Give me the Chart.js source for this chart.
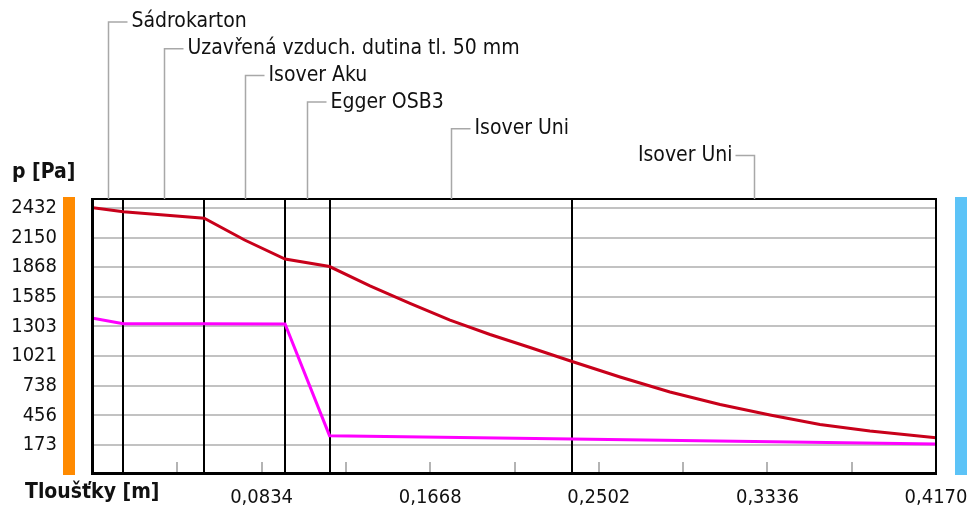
<!DOCTYPE html>
<html>
<head>
<meta charset="utf-8">
<script src="https://cdn.jsdelivr.net/npm/chart.js@4.4.1/dist/chart.umd.min.js"></script>
<style>
  html, body { margin: 0; padding: 0; background: #fff; }
  #wrap { width: 971px; height: 506px; }
</style>
</head>
<body>
<div id="wrap"><canvas id="chart"></canvas></div>
<script>
// Layers of the wall (names + boundaries in metres)
const layerNames = ['Sádrokarton', 'Uzavřená vzduch. dutina tl. 50 mm', 'Isover Aku', 'Egger OSB3', 'Isover Uni', 'Isover Uni'];
const layerBounds = [0, 0.015, 0.055, 0.095, 0.117, 0.237, 0.417];

// red curve (saturated pressure)
const satX = [0, 0.015, 0.055, 0.075, 0.095, 0.117, 0.137, 0.1568, 0.1766, 0.1964, 0.2162, 0.237, 0.2607, 0.2854, 0.3102, 0.3349, 0.3596, 0.3843, 0.417];
const satP = [2435, 2397, 2334, 2127, 1946, 1874, 1689, 1522, 1364, 1226, 1102, 969, 821, 678, 559, 459, 368, 306, 242];

// magenta line (partial pressure)
const parX = [0, 0.015, 0.055, 0.095, 0.117, 0.237, 0.417];
const parP = [1381, 1328, 1328, 1326, 262, 230, 183];

const yTicks = [173, 456, 738, 1021, 1303, 1585, 1868, 2150, 2432];
const xTicks = [0.0834, 0.1668, 0.2502, 0.3336, 0.4170];
const xMinorStep = 0.0417;

const FONT = "'Liberation Sans Narrow', 'DejaVu Sans Condensed', 'Liberation Sans', sans-serif";
Chart.defaults.font.family = FONT;
Chart.defaults.font.size = 20;
Chart.defaults.color = '#111';

const decor = {
  id: 'decor',
  beforeDatasetsDraw(chart) {
    const { ctx, chartArea: a, scales: { x } } = chart;
    ctx.save();
    // small ticks at the bottom edge
    ctx.strokeStyle = '#b4b4b4';
    ctx.lineWidth = 2;
    for (let i = 1; i * xMinorStep < layerBounds[layerBounds.length - 1] - 1e-6; i++) {
      const px = Math.round(x.getPixelForValue(i * xMinorStep));
      ctx.beginPath();
      ctx.moveTo(px, a.bottom);
      ctx.lineTo(px, a.bottom - 11);
      ctx.stroke();
    }
    // layer boundaries
    ctx.strokeStyle = '#000';
    ctx.lineWidth = 2;
    layerBounds.slice(1, -1).forEach(b => {
      const px = Math.round(x.getPixelForValue(b));
      ctx.beginPath();
      ctx.moveTo(px, a.top);
      ctx.lineTo(px, a.bottom);
      ctx.stroke();
    });
    ctx.restore();
  },
  afterDatasetsDraw(chart) {
    const { ctx, chartArea: a } = chart;
    ctx.save();
    ctx.fillStyle = '#000';
    ctx.fillRect(a.left - 2, a.top - 1, 3, a.bottom - a.top + 3);   // left
    ctx.fillRect(a.left - 2, a.bottom - 1, a.right - a.left + 3, 3); // bottom
    ctx.fillRect(a.left - 2, a.top - 1, a.right - a.left + 3, 2);    // top
    ctx.fillRect(a.right - 1, a.top - 1, 2, a.bottom - a.top + 3);   // right
    ctx.restore();
  },
  afterDraw(chart) {
    const { ctx, chartArea: a, scales: { x } } = chart;
    ctx.save();
    // interior / exterior bars
    ctx.fillStyle = '#ff8a00';
    ctx.fillRect(63, a.top - 2, 12, a.bottom - a.top + 4);
    ctx.fillStyle = '#5cc3f7';
    ctx.fillRect(955, a.top - 2, 12, a.bottom - a.top + 4);

    // layer labels with leader lines
    ctx.font = '21px ' + FONT;
    ctx.textBaseline = 'middle';
    ctx.strokeStyle = '#a8a8a8';
    ctx.lineWidth = 1.5;
    layerNames.forEach((name, i) => {
      const px = Math.round(x.getPixelForValue((layerBounds[i] + layerBounds[i + 1]) / 2)) + 0.5;
      const ly = 22 + i * 26.7;
      const left = i === layerNames.length - 1;
      ctx.beginPath();
      ctx.moveTo(px, a.top);
      ctx.lineTo(px, ly);
      ctx.lineTo(left ? px - 19 : px + 19, ly);
      ctx.stroke();
      ctx.fillStyle = '#111';
      ctx.textAlign = left ? 'right' : 'left';
      ctx.fillText(name, left ? px - 22 : px + 23, ly);
    });

    // axis titles
    ctx.font = 'bold 21px ' + FONT;
    ctx.textAlign = 'left';
    ctx.fillStyle = '#111';
    ctx.fillText('p [Pa]', 12, 173);
    ctx.fillText('Tloušťky [m]', 25, 493);
    ctx.restore();
  }
};

new Chart(document.getElementById('chart'), {
  type: 'line',
  data: {
    datasets: [
      {
        label: 'p sat',
        data: satX.map((v, i) => ({ x: v, y: satP[i] })),
        borderColor: '#c8001a',
        borderWidth: 3,
        pointRadius: 0,
        tension: 0
      },
      {
        label: 'p',
        data: parX.map((v, i) => ({ x: v, y: parP[i] })),
        borderColor: '#ff00ff',
        borderWidth: 3,
        pointRadius: 0,
        tension: 0
      }
    ]
  },
  options: {
    responsive: true,
    maintainAspectRatio: false,
    animation: false,
    events: [],
    layout: { padding: { top: 199, right: 35, left: 0, bottom: 0 } },
    plugins: { legend: { display: false }, tooltip: { enabled: false } },
    scales: {
      x: {
        type: 'linear',
        min: 0,
        max: 0.417,
        afterBuildTicks: s => { s.ticks = xTicks.map(v => ({ value: v })); },
        afterFit: s => { s.height = 33; s.paddingLeft = 0; s.paddingRight = 0; },
        grid: { display: false },
        border: { display: false },
        ticks: {
          padding: 5,
          maxRotation: 0,
          autoSkip: false,
          callback: v => Number(v).toFixed(4).replace('.', ',')
        }
      },
      y: {
        min: -94,
        max: 2518,
        afterBuildTicks: s => { s.ticks = yTicks.map(v => ({ value: v })); },
        afterFit: s => { s.width = 93; s.paddingTop = 0; s.paddingBottom = 0; },
        grid: { color: '#c2c2c2', lineWidth: 2, drawTicks: false },
        border: { display: false },
        ticks: { padding: 36, autoSkip: false, callback: v => String(v) }
      }
    }
  },
  plugins: [decor]
});
</script>
</body>
</html>
